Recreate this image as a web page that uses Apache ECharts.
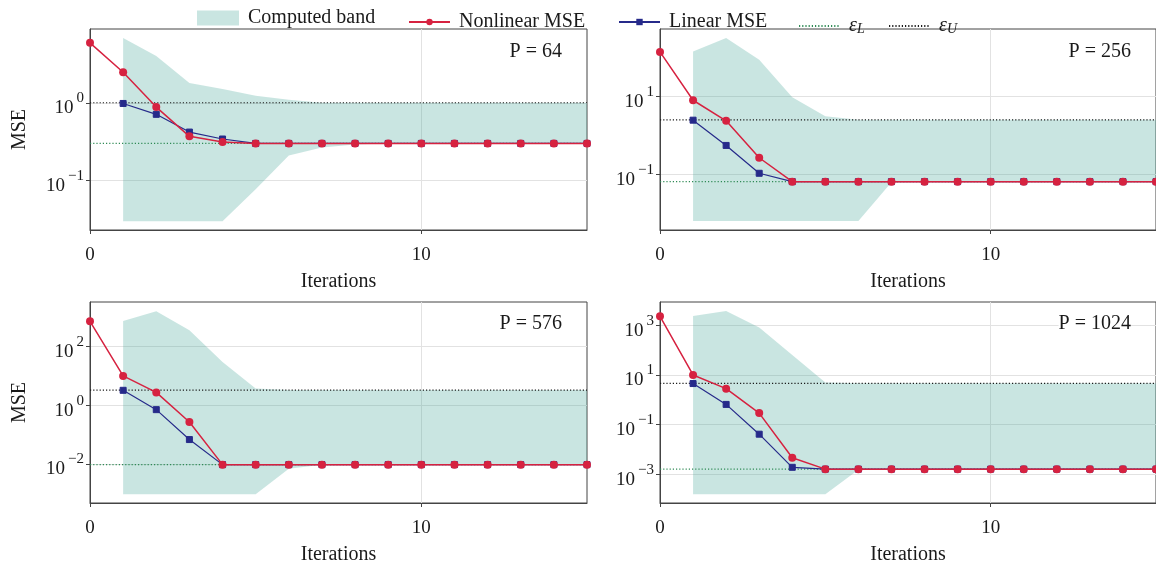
<!DOCTYPE html>
<html><head><meta charset="utf-8">
<script src="https://cdn.jsdelivr.net/npm/echarts@6/dist/echarts.min.js"></script>
<style>html,body{margin:0;padding:0;background:#fff}#c{width:1156px;height:566px}</style>
</head><body><div id="c"></div>
<script>
// ---------------- data ----------------
const iterations = [0,1,2,3,4,5,6,7,8,9,10,11,12,13,14,15];
const panelTitles = ['P = 64', 'P = 256', 'P = 576', 'P = 1024'];
const xTicks = [0, 10];

// P = 64
const nonlinear64 = [5.9,2.47,0.88,0.37,0.313,0.30,0.30,0.30,0.30,0.30,0.30,0.30,0.30,0.30,0.30,0.30];
const linear64    = [null,0.98,0.71,0.42,0.342,0.30,0.30,0.30,0.30,0.30,0.30,0.30,0.30,0.30,0.30,0.30];
const bandLow64   = [null,0.03,0.03,0.03,0.03,0.077,0.21,0.265,0.29,0.30,0.30,0.30,0.30,0.30,0.30,0.30];
const bandHigh64  = [null,6.8,4.0,1.79,1.5,1.23,1.09,1.0,1.0,1.0,1.0,1.0,1.0,1.0,1.0,1.0];
const epsL64 = 0.30, epsU64 = 1.0;
const yTicks64 = [1, 0.1];

// P = 256
const nonlinear256 = [138,7.9,2.34,0.263,0.064,0.064,0.064,0.064,0.064,0.064,0.064,0.064,0.064,0.064,0.064,0.064];
const linear256    = [null,2.43,0.545,0.105,0.064,0.064,0.064,0.064,0.064,0.064,0.064,0.064,0.064,0.064,0.064,0.064];
const bandLow256   = [null,0.0062,0.0062,0.0062,0.0062,0.0062,0.0062,0.062,0.064,0.064,0.064,0.064,0.064,0.064,0.064,0.064];
const bandHigh256  = [null,142,316,87,9.4,3.07,2.48,2.48,2.48,2.48,2.48,2.48,2.48,2.48,2.48,2.48];
const epsL256 = 0.064, epsU256 = 2.48;
const yTicks256 = [10, 0.1];

// P = 576
const nonlinear576 = [730,10,2.75,0.27,0.0095,0.0095,0.0095,0.0095,0.0095,0.0095,0.0095,0.0095,0.0095,0.0095,0.0095,0.0095];
const linear576    = [null,3.24,0.71,0.068,0.0095,0.0095,0.0095,0.0095,0.0095,0.0095,0.0095,0.0095,0.0095,0.0095,0.0095,0.0095];
const bandLow576   = [null,0.00093,0.00093,0.00093,0.00093,0.00093,0.0069,0.0095,0.0095,0.0095,0.0095,0.0095,0.0095,0.0095,0.0095,0.0095];
const bandHigh576  = [null,740,1600,360,30,3.7,3.3,3.3,3.3,3.3,3.3,3.3,3.3,3.3,3.3,3.3];
const epsL576 = 0.0095, epsU576 = 3.3;
const yTicks576 = [100, 1, 0.01];

// P = 1024
const nonlinear1024 = [2300,10,2.8,0.29,0.0046,0.0016,0.0016,0.0016,0.0016,0.0016,0.0016,0.0016,0.0016,0.0016,0.0016,0.0016];
const linear1024    = [null,4.5,0.65,0.041,0.0019,0.0016,0.0016,0.0016,0.0016,0.0016,0.0016,0.0016,0.0016,0.0016,0.0016,0.0016];
const bandLow1024   = [null,0.000155,0.000155,0.000155,0.000155,0.000155,0.0015,0.0016,0.0016,0.0016,0.0016,0.0016,0.0016,0.0016,0.0016,0.0016];
const bandHigh1024  = [null,2400,3800,810,63,5.0,4.6,4.6,4.6,4.6,4.6,4.6,4.6,4.6,4.6,4.6];
const epsL1024 = 0.0016, epsU1024 = 4.6;
const yTicks1024 = [1000, 10, 0.1, 0.001];

// ---------------- layout / style ----------------
const FONT = 'Liberation Serif';
const RED = '#d62240', BLUE = '#262a8a', GREEN = '#2f8a55', BLACK = '#1a1a1a';
const BAND = 'rgba(69,166,153,0.29)';
const AXIS = '#444', GRIDC = '#e2e2e2';

const panels = [
  {nl: nonlinear64,  lin: linear64,  lo: bandLow64,  hi: bandHigh64,  eL: epsL64,  eU: epsU64,  ticks: yTicks64,  min: 0.0231,   max: 8.89,
   grid: {left: 90,  top: 29,  width: 497, height: 201}, label: [562, 52]},
  {nl: nonlinear256, lin: linear256, lo: bandLow256, hi: bandHigh256, eL: epsL256, eU: epsU256, ticks: yTicks256, min: 0.00366,  max: 535,
   grid: {left: 660, top: 29,  width: 496, height: 201}, label: [1131, 52]},
  {nl: nonlinear576, lin: linear576, lo: bandLow576, hi: bandHigh576, eL: epsL576, eU: epsU576, ticks: yTicks576, min: 0.000468, max: 3311,
   grid: {left: 90,  top: 302, width: 497, height: 201}, label: [562, 324]},
  {nl: nonlinear1024,lin: linear1024,lo: bandLow1024,hi: bandHigh1024,eL: epsL1024,eU: epsU1024,ticks: yTicks1024,min: 0.0000692,max: 8710,
   grid: {left: 660, top: 302, width: 496, height: 201}, label: [1131, 324]}
];

function pairs(arr) {
  return iterations.map((x, i) => [x, arr[i]]).filter(p => p[1] != null);
}
function expLabel(v) {
  const e = Math.round(Math.log10(v));
  return '{b|10}{s|' + (e < 0 ? '\u2212' + (-e) : String(e)) + '}';
}

const grids = [], xAxes = [], yAxes = [], series = [], graphics = [];
panels.forEach((p, i) => {
  grids.push(Object.assign({show: true, borderColor: AXIS, borderWidth: 1, containLabel: false}, p.grid));
  xAxes.push({
    type: 'value', gridIndex: i, min: 0, max: 15,
    axisLine: {show: true, onZero: false, lineStyle: {color: AXIS, width: 1}},
    axisTick: {show: true, inside: false, length: 4, customValues: xTicks, lineStyle: {color: AXIS}},
    axisLabel: {customValues: xTicks, fontFamily: FONT, fontSize: 19, color: BLACK, margin: 16},
    splitLine: {show: true, lineStyle: {color: GRIDC, width: 1}},
    name: 'Iterations', nameLocation: 'middle', nameGap: 42,
    nameTextStyle: {fontFamily: FONT, fontSize: 20, color: BLACK}
  });
  yAxes.push({
    type: 'log', logBase: 10, gridIndex: i, min: p.min, max: p.max,
    axisLine: {show: true, lineStyle: {color: AXIS, width: 1}},
    axisTick: {show: true, inside: false, length: 4, customValues: p.ticks, lineStyle: {color: AXIS}},
    axisLabel: {customValues: p.ticks, margin: 6, formatter: expLabel,
      rich: {
        b: {fontFamily: FONT, fontSize: 19, color: BLACK, lineHeight: 30, verticalAlign: 'bottom'},
        s: {fontFamily: FONT, fontSize: 15, color: BLACK, verticalAlign: 'top', padding: [3, 0, 0, 3]}
      }},
    splitLine: {show: true, lineStyle: {color: GRIDC, width: 1}},
    minorTick: {show: false}, minorSplitLine: {show: false},
    name: (i % 2 === 0) ? 'MSE' : '', nameLocation: 'middle', nameGap: 60,
    nameTextStyle: {fontFamily: FONT, fontSize: 20, color: BLACK}
  });
  // band rows [x, low, high]
  const rows = iterations.map((x, k) => [x, p.lo[k], p.hi[k]]).filter(r => r[1] != null && r[2] != null);
  series.push({
    name: 'Computed band', type: 'custom', xAxisIndex: i, yAxisIndex: i,
    data: rows, encode: {x: 0, y: [1, 2]}, itemStyle: {color: BAND}, silent: true, clip: true, z: 1,
    renderItem: function (params, api) {
      if (params.dataIndex !== 0) return null;
      const top = rows.map(r => api.coord([r[0], r[2]]));
      const bot = rows.slice().reverse().map(r => api.coord([r[0], r[1]]));
      return {type: 'polygon', shape: {points: top.concat(bot)}, style: {fill: BAND}};
    }
  });
  series.push({
    name: 'eps_L', type: 'line', xAxisIndex: i, yAxisIndex: i,
    data: [[iterations[0], p.eL], [iterations[iterations.length - 1], p.eL]],
    symbol: 'none', lineStyle: {color: GREEN, width: 1.2, type: [1.2, 2]}, itemStyle: {color: GREEN}, z: 2
  });
  series.push({
    name: 'eps_U', type: 'line', xAxisIndex: i, yAxisIndex: i,
    data: [[iterations[0], p.eU], [iterations[iterations.length - 1], p.eU]],
    symbol: 'none', lineStyle: {color: BLACK, width: 1.2, type: [1.2, 2]}, itemStyle: {color: BLACK}, z: 2
  });
  series.push({
    name: 'Linear MSE', type: 'line', xAxisIndex: i, yAxisIndex: i,
    data: pairs(p.lin), symbol: 'rect', symbolSize: 6, showAllSymbol: true,
    lineStyle: {color: BLUE, width: 1.2}, itemStyle: {color: BLUE, borderColor: BLUE}, z: 3
  });
  series.push({
    name: 'Nonlinear MSE', type: 'line', xAxisIndex: i, yAxisIndex: i,
    data: pairs(p.nl), symbol: 'circle', symbolSize: 8, showAllSymbol: true,
    lineStyle: {color: RED, width: 1.5}, itemStyle: {color: RED}, z: 4
  });
  graphics.push({
    type: 'text', x: p.label[0], y: p.label[1], z: 10,
    style: {text: panelTitles[i], font: '20px "' + FONT + '"', fill: BLACK, align: 'right', verticalAlign: 'middle',
            backgroundColor: '#fff', padding: [1, 0]}
  });
});

const legendText = {fontFamily: FONT, fontSize: 20, color: BLACK, padding: [0, 0, 0, 4],
  rich: {
    e: {fontFamily: FONT, fontSize: 20, fontStyle: 'italic', color: BLACK, verticalAlign: 'top', lineHeight: 20},
    sub: {fontFamily: FONT, fontSize: 14, fontStyle: 'italic', color: BLACK, verticalAlign: 'bottom', lineHeight: 14, padding: [10, 0, 0, 0]}
  }};
function legendFmt(name) {
  if (name === 'eps_L') return '{e|\u03b5}{sub|L}';
  if (name === 'eps_U') return '{e|\u03b5}{sub|U}';
  return name;
}
const legendBase = {orient: 'horizontal', padding: 0, itemGap: 0, textStyle: legendText, formatter: legendFmt, selectedMode: false};
const legends = [
  Object.assign({}, legendBase, {left: 197, top: 8, itemWidth: 42, itemHeight: 15,
    data: [{name: 'Computed band', icon: 'rect', itemStyle: {color: BAND, opacity: 1}}]}),
  Object.assign({}, legendBase, {left: 408, top: 12, itemWidth: 41, itemHeight: 8, data: ['Nonlinear MSE']}),
  Object.assign({}, legendBase, {left: 618, top: 12, itemWidth: 41, itemHeight: 8, data: ['Linear MSE']}),
  Object.assign({}, legendBase, {left: 798, top: 12, itemWidth: 41, itemHeight: 8,
    data: [{name: 'eps_L', itemStyle: {opacity: 0}}]}),
  Object.assign({}, legendBase, {left: 888, top: 12, itemWidth: 41, itemHeight: 8,
    data: [{name: 'eps_U', itemStyle: {opacity: 0}}]})
];

const chart = echarts.init(document.getElementById('c'), null, {renderer: 'canvas'});
chart.setOption({
  animation: false,
  backgroundColor: '#fff',
  grid: grids, xAxis: xAxes, yAxis: yAxes, series: series,
  legend: legends,
  graphic: graphics
});
</script></body></html>
